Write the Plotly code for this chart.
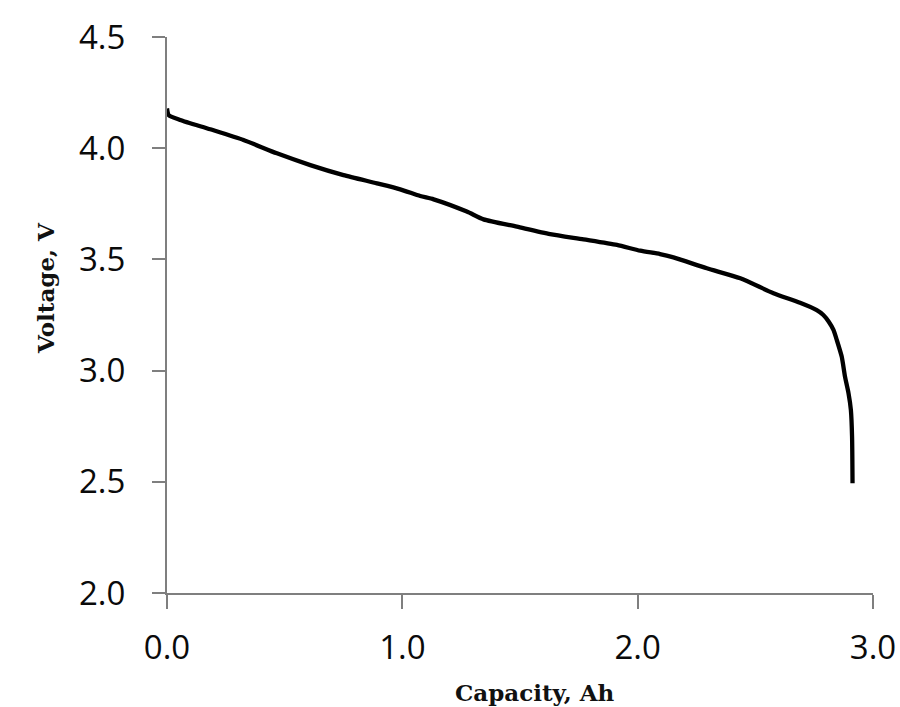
import plotly.graph_objects as go

# Discharge curve: capacity (Ah) vs. terminal voltage (V)
capacity = [0.000, 0.007, 0.056, 0.184, 0.325, 0.467, 0.609, 0.750, 0.892, 0.991,
            1.076, 1.133, 1.274, 1.345, 1.487, 1.628, 1.770, 1.912, 2.011, 2.095,
            2.152, 2.294, 2.436, 2.577, 2.690, 2.761, 2.789, 2.812, 2.832, 2.846,
            2.867, 2.881, 2.896, 2.906, 2.911, 2.913]
voltage = [4.179, 4.149, 4.127, 4.085, 4.037, 3.977, 3.924, 3.879, 3.842, 3.815,
           3.785, 3.770, 3.715, 3.680, 3.647, 3.614, 3.590, 3.565, 3.539, 3.524,
           3.509, 3.460, 3.415, 3.348, 3.305, 3.272, 3.250, 3.220, 3.183, 3.138,
           3.063, 2.973, 2.898, 2.823, 2.703, 2.493]

x_ticks = [0.0, 1.0, 2.0, 3.0]
x_tick_text = ["0.0", "1.0", "2.0", "3.0"]
y_ticks = [2.0, 2.5, 3.0, 3.5, 4.0, 4.5]
y_tick_text = ["2.0", "2.5", "3.0", "3.5", "4.0", "4.5"]

x_title = "Capacity, Ah"
y_title = "Voltage, V"

fig = go.Figure()
fig.add_trace(go.Scatter(
    x=capacity, y=voltage, mode="lines",
    line=dict(color="black", width=4.3, shape="spline", smoothing=0.6),
    showlegend=False, hoverinfo="skip",
))

tick_font = dict(family="Open Sans", size=33, color="#0a0a0a")
axis_common = dict(
    showgrid=False, zeroline=False, showline=True, automargin=False,
    linecolor="#7f7f7f", linewidth=2,
    ticks="outside", tickcolor="#7f7f7f", tickwidth=2,
    tickfont=tick_font,
)

fig.update_xaxes(range=[0, 3], tickvals=x_ticks, ticktext=x_tick_text,
                 ticklen=14, ticklabelstandoff=10, **axis_common)
fig.update_yaxes(range=[2, 4.5], tickvals=y_ticks, ticktext=y_tick_text,
                 ticklen=13, ticklabelstandoff=20, **axis_common)

# page layout in pixels
W, H = 900, 707
ml, mr, mt, mb = 167, 27, 37, 114
pw, ph = W - ml - mr, H - mt - mb

title_font = dict(family="DejaVu Serif", size=23, color="#111111", weight="bold")
fig.add_annotation(text=x_title, x=(535 - ml) / pw, y=(H - mb - 692) / ph,
                   xref="paper", yref="paper", xanchor="center", yanchor="middle",
                   showarrow=False, font=title_font)
fig.add_annotation(text=y_title, x=(45 - ml) / pw, y=(H - mb - 288) / ph,
                   xref="paper", yref="paper", xanchor="center", yanchor="middle",
                   showarrow=False, font=title_font, textangle=-90)

fig.update_layout(
    width=W, height=H,
    margin=dict(l=ml, r=mr, t=mt, b=mb),
    paper_bgcolor="white", plot_bgcolor="white",
)

fig.write_html("out.html")
